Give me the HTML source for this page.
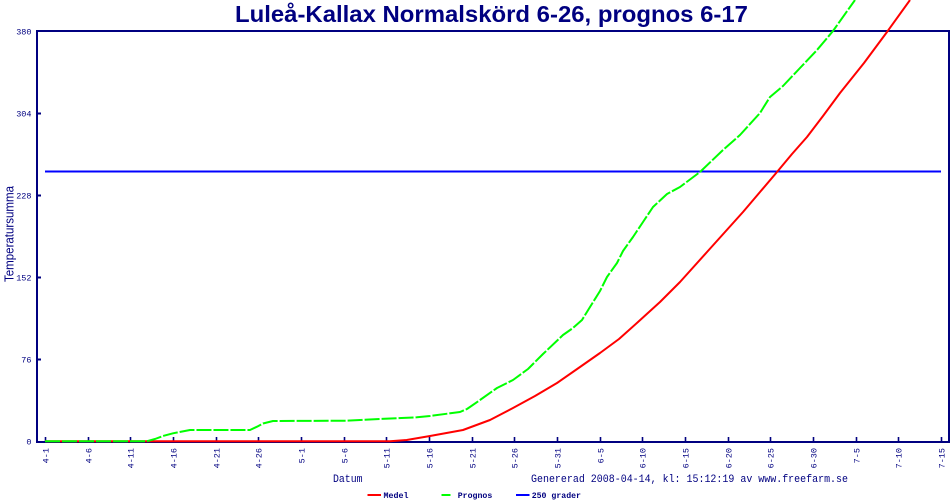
<!DOCTYPE html>
<html>
<head>
<meta charset="utf-8">
<style>
html,body{margin:0;padding:0;background:#fff;}
svg{display:block;}
.mono{font-family:"Liberation Mono",monospace;fill:#000080;}
</style>
</head>
<body>
<svg width="950" height="500" viewBox="0 0 950 500" xmlns="http://www.w3.org/2000/svg">
<rect x="0" y="0" width="950" height="500" fill="#fff"/>

<!-- Title -->
<text x="235" y="22" font-family="Liberation Sans, Arial, sans-serif" font-weight="bold" font-size="23" fill="#000080" textLength="513" lengthAdjust="spacingAndGlyphs">Luleå-Kallax Normalskörd 6-26, prognos 6-17</text>

<!-- Plot frame -->
<g stroke="#000080" stroke-width="2" fill="none" shape-rendering="crispEdges">
  <line x1="36" y1="31" x2="950" y2="31"/>
  <line x1="949" y1="31" x2="949" y2="443"/>
  <line x1="37" y1="30" x2="37" y2="443"/>
  <line x1="36" y1="442" x2="950" y2="442"/>
</g>

<!-- Y ticks -->
<g stroke="#000080" stroke-width="2" shape-rendering="crispEdges">
  <line x1="36" y1="113.5" x2="41" y2="113.5"/>
  <line x1="36" y1="195.5" x2="41" y2="195.5"/>
  <line x1="36" y1="277.5" x2="41" y2="277.5"/>
  <line x1="36" y1="359.5" x2="41" y2="359.5"/>
</g>

<!-- Y labels -->
<g class="mono" font-size="8.5" text-anchor="end">
  <text x="31.5" y="34.5">380</text>
  <text x="31.5" y="116.5">304</text>
  <text x="31.5" y="198.5">228</text>
  <text x="31.5" y="280.5">152</text>
  <text x="31.5" y="362.5">76</text>
  <text x="31.5" y="444.5">0</text>
</g>

<!-- Y axis title -->
<text transform="translate(13.5,282) rotate(-90)" font-family="Liberation Sans, Arial, sans-serif" font-size="12.5" fill="#000080" textLength="96" lengthAdjust="spacingAndGlyphs">Temperatursumma</text>

<!-- X ticks -->
<g stroke="#000080" stroke-width="1.6">
  <line x1="45.5" y1="437" x2="45.5" y2="442"/>
  <line x1="88.5" y1="437" x2="88.5" y2="442"/>
  <line x1="130.5" y1="437" x2="130.5" y2="442"/>
  <line x1="173.5" y1="437" x2="173.5" y2="442"/>
  <line x1="216.5" y1="437" x2="216.5" y2="442"/>
  <line x1="258.5" y1="437" x2="258.5" y2="442"/>
  <line x1="301.5" y1="437" x2="301.5" y2="442"/>
  <line x1="344.5" y1="437" x2="344.5" y2="442"/>
  <line x1="386.5" y1="437" x2="386.5" y2="442"/>
  <line x1="429.5" y1="437" x2="429.5" y2="442"/>
  <line x1="472.5" y1="437" x2="472.5" y2="442"/>
  <line x1="514.5" y1="437" x2="514.5" y2="442"/>
  <line x1="557.5" y1="437" x2="557.5" y2="442"/>
  <line x1="600.5" y1="437" x2="600.5" y2="442"/>
  <line x1="642.5" y1="437" x2="642.5" y2="442"/>
  <line x1="685.5" y1="437" x2="685.5" y2="442"/>
  <line x1="728.5" y1="437" x2="728.5" y2="442"/>
  <line x1="770.5" y1="437" x2="770.5" y2="442"/>
  <line x1="813.5" y1="437" x2="813.5" y2="442"/>
  <line x1="856.5" y1="437" x2="856.5" y2="442"/>
  <line x1="898.5" y1="437" x2="898.5" y2="442"/>
  <line x1="941.5" y1="437" x2="941.5" y2="442"/>
</g>

<!-- X labels (rotated) -->
<g class="mono" font-size="8.5" text-anchor="end">
  <text transform="translate(48.5,448) rotate(-90)">4-1</text>
  <text transform="translate(91.5,448) rotate(-90)">4-6</text>
  <text transform="translate(133.5,448) rotate(-90)">4-11</text>
  <text transform="translate(176.5,448) rotate(-90)">4-16</text>
  <text transform="translate(219.5,448) rotate(-90)">4-21</text>
  <text transform="translate(261.5,448) rotate(-90)">4-26</text>
  <text transform="translate(304.5,448) rotate(-90)">5-1</text>
  <text transform="translate(347.5,448) rotate(-90)">5-6</text>
  <text transform="translate(389.5,448) rotate(-90)">5-11</text>
  <text transform="translate(432.5,448) rotate(-90)">5-16</text>
  <text transform="translate(475.5,448) rotate(-90)">5-21</text>
  <text transform="translate(517.5,448) rotate(-90)">5-26</text>
  <text transform="translate(560.5,448) rotate(-90)">5-31</text>
  <text transform="translate(603.5,448) rotate(-90)">6-5</text>
  <text transform="translate(645.5,448) rotate(-90)">6-10</text>
  <text transform="translate(688.5,448) rotate(-90)">6-15</text>
  <text transform="translate(731.5,448) rotate(-90)">6-20</text>
  <text transform="translate(773.5,448) rotate(-90)">6-25</text>
  <text transform="translate(816.5,448) rotate(-90)">6-30</text>
  <text transform="translate(859.5,448) rotate(-90)">7-5</text>
  <text transform="translate(901.5,448) rotate(-90)">7-10</text>
  <text transform="translate(944.5,448) rotate(-90)">7-15</text>
</g>

<!-- 250 grader line -->
<line x1="45" y1="171.5" x2="941" y2="171.5" stroke="#0000ff" stroke-width="2"/>

<!-- Medel (red) -->
<polyline fill="none" stroke="#ff0000" stroke-width="2" stroke-linejoin="round"
 points="45,441.3 390,441.3 406.7,440 430,436 463,430 490,420 513,408 535,396 557,383 580,367 600,353 619,339 638,322 660,302 680,282 707,252 725,232 743,212 760,192 777,172 792,154 807,137 823,116 840,93 864,63 887,32 910,0"/>

<!-- Prognos (green dashed) -->
<polyline fill="none" stroke="#00ff00" stroke-width="2" stroke-dasharray="15 2" stroke-linejoin="round"
 points="45,441.3 146.7,441.3 155,439 163,436 173,433.3 190,430 250,430 257,426.7 263,423.5 273,421 347,420.7 380,419 417,417.3 430,416 460,412 467,409 480,400 497,388 513,380 528,369 543,354 563,335 573,328 582,320 590,307 600,291 607,277 617,263 623,251 633,237 643,222 653,207 667,194 680,187 700,172 723,150 740,135 760,113 770,97 783,86 800,68 817,50 833,31 855,0"/>

<!-- Bottom texts -->
<text class="mono" x="333" y="482" font-size="11" textLength="29.5" lengthAdjust="spacingAndGlyphs">Datum</text>
<text class="mono" x="531" y="482" font-size="11" textLength="317" lengthAdjust="spacingAndGlyphs">Genererad 2008-04-14, kl: 15:12:19 av www.freefarm.se</text>

<!-- Legend -->
<line x1="367.5" y1="495" x2="381" y2="495" stroke="#ff0000" stroke-width="2"/>
<text class="mono" x="383.5" y="497.8" font-size="8.5" font-weight="bold" textLength="25" lengthAdjust="spacingAndGlyphs">Medel</text>
<line x1="441.5" y1="495" x2="450.5" y2="495" stroke="#00ff00" stroke-width="2"/>
<text class="mono" x="457.7" y="497.8" font-size="8.5" font-weight="bold" textLength="34.6" lengthAdjust="spacingAndGlyphs">Prognos</text>
<line x1="516" y1="495" x2="529.5" y2="495" stroke="#0000ff" stroke-width="2"/>
<text class="mono" x="531.7" y="497.8" font-size="8.5" font-weight="bold" textLength="49.3" lengthAdjust="spacingAndGlyphs">250 grader</text>
</svg>
</body>
</html>
